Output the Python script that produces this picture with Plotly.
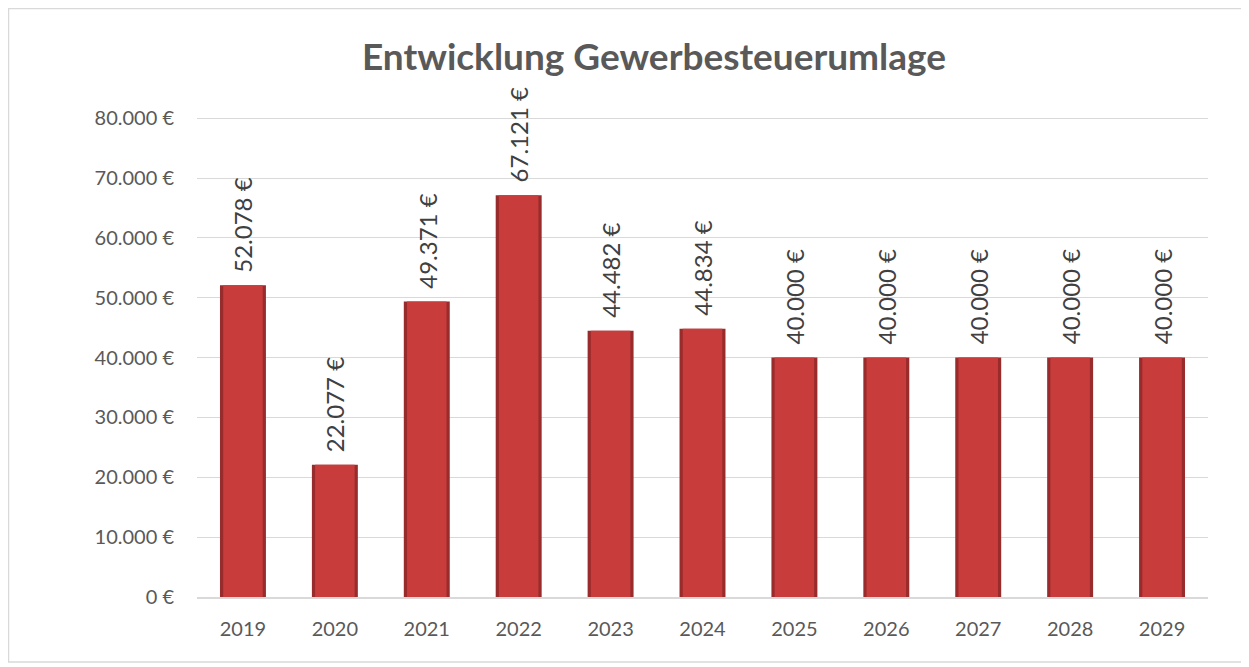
import plotly.graph_objects as go

years = ["2019", "2020", "2021", "2022", "2023", "2024", "2025", "2026", "2027", "2028", "2029"]
values = [52078, 22077, 49371, 67121, 44482, 44834, 40000, 40000, 40000, 40000, 40000]
y_ticks = [0, 10000, 20000, 30000, 40000, 50000, 60000, 70000, 80000]
title_text = "Entwicklung Gewerbesteuerumlage"

def eur(v):
    return f"{v:,.0f}".replace(",", ".") + " €"

OFF = 8  # page body margin
W, H = 1249 - OFF, 667 - OFF
L, R, T, B = 197 - OFF, 41, 117 - OFF, 70
FONT = "Lato"

fig = go.Figure()
# base bar (dark edge)
fig.add_trace(go.Bar(x=years, y=values, width=0.5, marker=dict(color="#982C2C", line=dict(width=0)),
                     hoverinfo="skip", showlegend=False))
# inner lighter body
fig.add_trace(go.Bar(x=years, y=values, width=0.43, marker=dict(color="#C83C3C", line=dict(width=0)),
                     showlegend=False))

annotations = []
for i, v in enumerate(values):
    annotations.append(dict(x=i, y=v, xref="x", yref="y", text=eur(v), showarrow=False,
                            textangle=-90, yanchor="bottom", xanchor="center", yshift=11,
                            font=dict(family=FONT, size=24, color="#404040")))

pw = W - L - R
ph = H - T - B
shapes = [dict(type="rect", xref="paper", yref="paper",
               x0=(0.5 - L) / pw, x1=(W + 5 - L) / pw,
               y0=(H - B - (662 - OFF)) / ph, y1=(H - B - 0.5) / ph,
               line=dict(color="#D9D9D9", width=1.5), fillcolor="rgba(0,0,0,0)", layer="below")]

fig.update_layout(
    width=W, height=H,
    margin=dict(l=L, r=R, t=T, b=B, autoexpand=False),
    paper_bgcolor="white", plot_bgcolor="white",
    barmode="overlay",
    separators=",.",
    title=dict(text=f"<b>{title_text}</b>", x=(654 - OFF) / W, xref="container", xanchor="center",
               y=1 - (57 - OFF) / H, yref="container", yanchor="middle",
               font=dict(family=FONT, size=37, color="#595959")),
    xaxis=dict(type="category", range=[-0.5, len(years) - 0.5], showgrid=False, showline=True,
               linecolor="#D9D9D9", linewidth=1.5,
               tickfont=dict(family=FONT, size=20, color="#595959"), ticks="",
               ticklabelstandoff=13, automargin=False),
    yaxis=dict(range=[0, 80200], tickvals=y_ticks, ticktext=[eur(t) for t in y_ticks],
               showgrid=True, gridcolor="#D9D9D9", gridwidth=1.2, zeroline=False,
               tickfont=dict(family=FONT, size=20, color="#595959"), ticks="",
               ticklabelstandoff=22, automargin=False),
    annotations=annotations,
    shapes=shapes,
    font=dict(family=FONT),
)

fig.write_html("out.html")
